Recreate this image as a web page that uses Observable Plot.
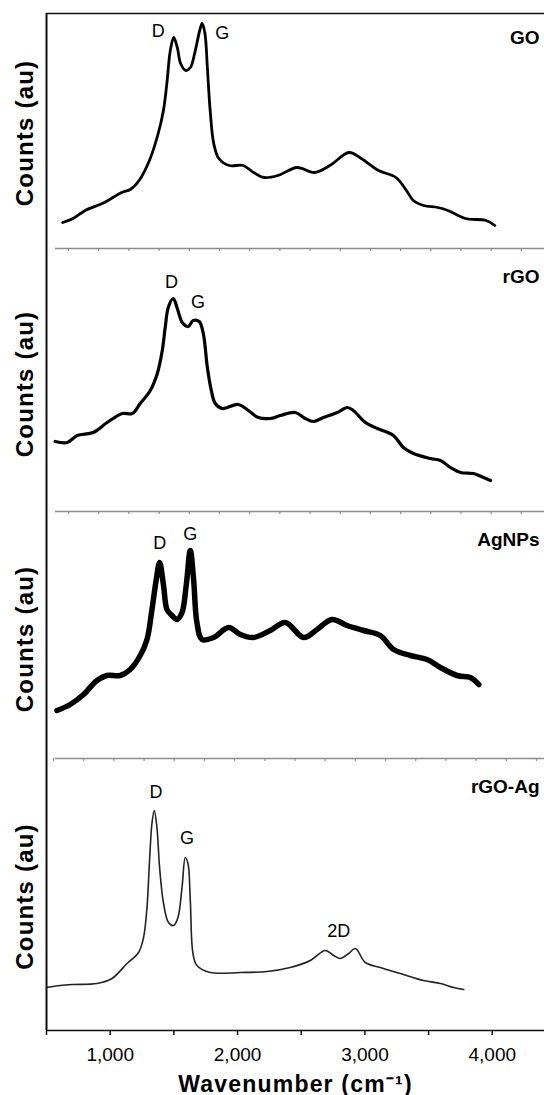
<!DOCTYPE html>
<html><head><meta charset="utf-8">
<script src="https://cdn.jsdelivr.net/npm/d3@7"></script>
<script src="https://cdn.jsdelivr.net/npm/@observablehq/plot@0.6"></script>
<style>
body{margin:0;background:#fff;}
#chart svg{display:block;}
#chart g[font-size="24"] text,#chart g[font-size="23"] text{letter-spacing:1.2px;}
</style></head><body><div id="chart"></div>
<script>
// ---- data (wavenumber in cm^-1, counts in arbitrary units) ----
const goWave = [627,709,804,954,1090,1158,1227,1308,1377,1418,1445,1472,1499,1527,1553,1594,1630,1663,1703,1722,1744,1763,1785,1813,1853,1935,2044,2126,2208,2317,2467,2603,2725,2875,2971,3107,3244,3326,3380,3461,3571,3652,3789,3952,4020];
const goCounts = [26,30,38,46,56,59,68,88,115,138,165,198,211,201,185,178,181,195,218,225,215,181,138,105,90,83,83,76,71,73,81,76,83,96,90,78,71,58,48,43,41,38,30,28,23];

const rgoWave = [568,663,741,867,976,1095,1173,1236,1315,1370,1409,1432,1456,1495,1527,1566,1613,1652,1699,1731,1763,1794,1825,1880,2006,2084,2163,2257,2336,2454,2532,2595,2674,2784,2862,2909,3004,3098,3224,3302,3381,3514,3593,3671,3750,3852,3931,3986];
const rgoCounts = [70,69,76,79,89,98,98,108,121,138,161,184,204,213,203,189,185,191,190,178,144,121,108,103,107,101,94,93,96,99,93,90,94,99,104,101,89,83,76,64,58,53,51,44,39,38,34,31];

const agWave = [582,686,791,896,974,1079,1157,1236,1289,1328,1362,1388,1419,1446,1485,1524,1564,1597,1629,1655,1681,1721,1812,1930,2022,2126,2257,2375,2519,2624,2742,2860,2990,3121,3226,3357,3488,3593,3724,3828,3894];
const agCounts = [48,54,64,78,83,83,89,103,119,149,179,196,173,149,143,139,146,173,208,179,136,119,121,131,124,121,128,136,121,129,139,133,128,123,109,103,99,91,83,81,74];

const rgoAgWave = [503,608,712,896,1014,1132,1223,1262,1289,1309,1328,1346,1367,1388,1419,1458,1498,1532,1564,1590,1611,1629,1650,1681,1786,2022,2231,2414,2571,2689,2755,2807,2872,2925,3003,3121,3278,3461,3593,3697,3776];
const rgoAgCounts = [43,45,46,47,52,67,78,93,123,170,207,220,203,163,127,108,105,113,143,173,167,130,77,65,58,58,59,63,70,80,75,72,77,82,68,63,57,50,47,43,41];

// peak annotations
const goPeakWave = [1377, 1880], goPeakCounts = [217, 215], goPeakText = ["D", "G"];
const rgoPeakWave = [1481, 1689], rgoPeakCounts = [229, 209], rgoPeakText = ["D", "G"];
const agPeakWave = [1390, 1629], agPeakCounts = [215, 224], agPeakText = ["D", "G"];
const rgoAgPeakWave = [1359, 1603, 2794], rgoAgPeakCounts = [238, 192, 99], rgoAgPeakText = ["D", "G", "2D"];

const sampleNames = ["GO", "rGO", "AgNPs", "rGO-Ag"];
const majorTicks = [1000, 2000, 3000, 4000];
const minorTicks = [500, 1500, 2500, 3500];
const xTitle = "Wavenumber (cm\u207B\u00B9)";
const yTitle = "Counts (au)";

// ---- drawing ----
const FONT = "Arial, 'Liberation Sans', Helvetica, sans-serif";
const xDomain = [500, 4410];
const toRows = (w, c) => w.map((d, i) => ({w: d, c: c[i]}));
const toLabels = (w, c, t) => w.map((d, i) => ({w: d, c: c[i], t: t[i]}));

const panels = [
  {name: sampleNames[0], rows: toRows(goWave, goCounts), labels: toLabels(goPeakWave, goPeakCounts, goPeakText),
   height: 252, mt: 13, mb: 0, yd: [-4, 235], sw: 2.8, stroke: "#000", first: true, sepStart: 673},
  {name: sampleNames[1], rows: toRows(rgoWave, rgoCounts), labels: toLabels(rgoPeakWave, rgoPeakCounts, rgoPeakText),
   height: 263, mt: 0, mb: 0, yd: [-4, 259], sw: 3.2, stroke: "#000", sepStart: 673},
  {name: sampleNames[2], rows: toRows(agWave, agCounts), labels: toLabels(agPeakWave, agPeakCounts, agPeakText),
   height: 247, mt: 0, mb: 0, yd: [-4, 243], sw: 5.5, stroke: "#000", sepStart: 555},
  {name: sampleNames[3], rows: toRows(rgoAgWave, rgoAgCounts), labels: toLabels(rgoAgPeakWave, rgoAgPeakCounts, rgoAgPeakText),
   height: 333, mt: 0, mb: 65, yd: [0, 268], sw: 1.6, stroke: "#222", last: true}
];

const root = document.getElementById("chart");
for (const p of panels) {
  const marks = [
    Plot.line(p.rows, {x: "w", y: "c", stroke: p.stroke, strokeWidth: p.sw, strokeLinejoin: "round", curve: "catmull-rom"}),
    Plot.text(p.labels, {x: "w", y: "c", text: "t", fontSize: 18, fill: "#000", textAnchor: "middle", lineAnchor: "middle"}),
    Plot.text([p.name], {frameAnchor: "top-right", dx: -5, dy: 24, fontSize: 19, fontWeight: "bold",
      textAnchor: "end", lineAnchor: "middle", fill: "#000"}),
    Plot.text([yTitle], {frameAnchor: "left", dx: -21, rotate: -90, fontSize: 24, fontWeight: "bold",
      textAnchor: "middle", lineAnchor: "middle", fill: "#000"}),
    Plot.ruleX([xDomain[0]], {stroke: "#111", strokeWidth: 2})
  ];
  if (p.first) marks.push(Plot.ruleY([p.yd[1]], {stroke: "#111", strokeWidth: 1.5}));
  if (!p.last) {
    const sepTicks = d3.range(p.sepStart, xDomain[1], 237);
    marks.push(Plot.ruleY([0], {x1: 570, x2: xDomain[1], stroke: "#8c8c8c", strokeWidth: 1.5}));
    marks.push(Plot.ruleX(sepTicks, {y1: 0, y2: -3, stroke: "#8c8c8c", strokeWidth: 1.2}));
  } else {
    marks.push(Plot.ruleY([0], {stroke: "#111", strokeWidth: 1.5}));
    marks.push(Plot.ruleX(majorTicks, {y1: 0, y2: -5, stroke: "#111", strokeWidth: 1.5}));
    marks.push(Plot.ruleX(minorTicks, {y1: 0, y2: -5, stroke: "#111", strokeWidth: 1.5}));
    marks.push(Plot.text(majorTicks, {x: d => d, frameAnchor: "bottom", dy: 24, text: d3.format(","),
      fontSize: 19, textAnchor: "middle", lineAnchor: "middle", fill: "#000"}));
    marks.push(Plot.text([xTitle], {frameAnchor: "bottom", dy: 54, fontSize: 23, fontWeight: "bold",
      textAnchor: "middle", lineAnchor: "middle", fill: "#000"}));
  }
  const svg = Plot.plot({
    width: 544, height: p.height,
    marginLeft: 46, marginRight: 0, marginTop: p.mt, marginBottom: p.mb,
    x: {domain: xDomain, axis: null},
    y: {domain: p.yd, axis: null},
    style: {fontFamily: FONT, background: "white", overflow: "visible"},
    marks
  });
  root.appendChild(svg);
}
</script></body></html>
